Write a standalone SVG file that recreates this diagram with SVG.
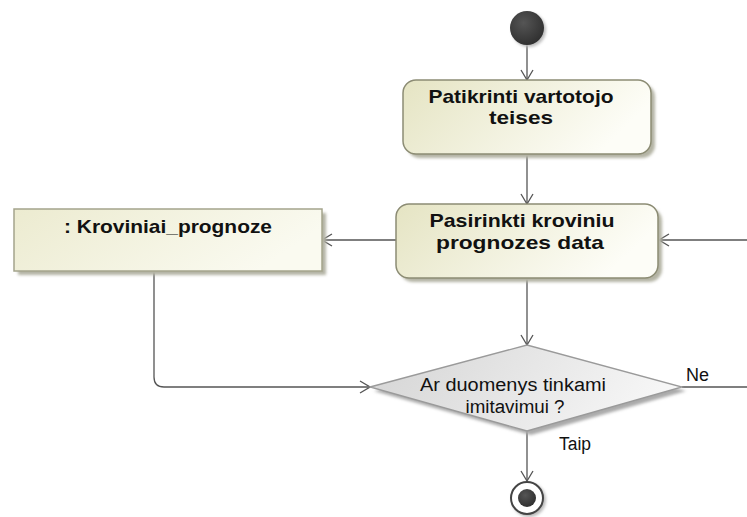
<svg xmlns="http://www.w3.org/2000/svg" width="747" height="517" viewBox="0 0 747 517">
<style>
.bt{font-family:"Liberation Sans",Arial,sans-serif;font-weight:bold;font-size:19px;fill:#111;text-anchor:middle}
.nt{font-family:"Liberation Sans",Arial,sans-serif;font-size:18px;fill:#111}
.ct{fill:none;stroke:#555;stroke-width:1.3}
.act{stroke:#8c8c74;stroke-width:1.5}
</style>
<defs>
<linearGradient id="gAct" x1="0" y1="0" x2="1" y2="0.3">
<stop offset="0" stop-color="#e5e4c3"/>
<stop offset="1" stop-color="#fdfdf7"/>
</linearGradient>
<linearGradient id="gObj" x1="0" y1="0" x2="1" y2="0.3">
<stop offset="0" stop-color="#eceBd0"/>
<stop offset="1" stop-color="#fafaf0"/>
</linearGradient>
<linearGradient id="gDec" x1="0" y1="0" x2="1" y2="0.2">
<stop offset="0" stop-color="#d4d4d4"/>
<stop offset="1" stop-color="#f6f6f6"/>
</linearGradient>
<radialGradient id="gStart" cx="0.4" cy="0.35" r="0.7">
<stop offset="0" stop-color="#555"/>
<stop offset="1" stop-color="#2e2e2e"/>
</radialGradient>
<filter id="sh" x="-10%" y="-10%" width="130%" height="140%">
<feGaussianBlur stdDeviation="1.5"/>
</filter>
<marker id="arr" markerWidth="12" markerHeight="14" viewBox="0 0 12 14" refX="11" refY="7" orient="auto" markerUnits="userSpaceOnUse">
<path d="M1,1 L11,7 L1,13" fill="none" stroke="#555" stroke-width="1.3"/>
</marker>
</defs>
<rect width="747" height="517" fill="#ffffff"/>

<g id="connectors">
<line class="ct" x1="527" y1="45" x2="527" y2="80" marker-end="url(#arr)"/>
<line class="ct" x1="527" y1="154" x2="527" y2="204" marker-end="url(#arr)"/>
<line class="ct" x1="396" y1="240" x2="322" y2="240" marker-end="url(#arr)"/>
<line class="ct" x1="747" y1="240" x2="659" y2="240" marker-end="url(#arr)"/>
<line class="ct" x1="527" y1="278" x2="527" y2="345" marker-end="url(#arr)"/>
<path class="ct" d="M154,272 L154,377 Q154,387 164,387 L370,387" marker-end="url(#arr)"/>
<line class="ct" x1="682" y1="387" x2="747" y2="387"/>
<line class="ct" x1="527" y1="431" x2="527" y2="481" marker-end="url(#arr)"/>
<text class="nt" x="686" y="381" textLength="23" lengthAdjust="spacingAndGlyphs">Ne</text>
<text class="nt" x="559" y="450" textLength="32" lengthAdjust="spacingAndGlyphs">Taip</text>
</g>

<g id="start">
<circle cx="529" cy="30" r="17" fill="#bbb" filter="url(#sh)"/>
<circle cx="527" cy="28" r="17" fill="url(#gStart)"/>
</g>

<g id="patikrinti">
<rect x="407" y="84" width="248" height="74" rx="13" fill="#b4b4a4" filter="url(#sh)"/>
<rect class="act" x="403" y="80" width="248" height="74" rx="13" fill="url(#gAct)"/>
<text class="bt" x="521" y="103" textLength="185" lengthAdjust="spacingAndGlyphs">Patikrinti vartotojo</text>
<text class="bt" x="521" y="124" textLength="64" lengthAdjust="spacingAndGlyphs">teises</text>
</g>

<g id="pasirinkti">
<rect x="400" y="208" width="262" height="74" rx="13" fill="#b4b4a4" filter="url(#sh)"/>
<rect class="act" x="396" y="204" width="262" height="74" rx="13" fill="url(#gAct)"/>
<text class="bt" x="522" y="227" textLength="185" lengthAdjust="spacingAndGlyphs">Pasirinkti kroviniu</text>
<text class="bt" x="520" y="249" textLength="168" lengthAdjust="spacingAndGlyphs">prognozes data</text>
</g>

<g id="kroviniai">
<rect x="18" y="213" width="308" height="62" fill="#b4b4a4" filter="url(#sh)"/>
<rect x="14" y="209" width="308" height="62" fill="url(#gObj)" stroke="#a4a48c" stroke-width="1.5"/>
<text class="bt" x="168" y="233" textLength="208" lengthAdjust="spacingAndGlyphs">: Kroviniai_prognoze</text>
</g>

<g id="decision">
<polygon points="374,391 531,349 686,391 531,435" fill="#aaa" filter="url(#sh)"/>
<polygon points="370,387 527,345 682,387 527,431" fill="url(#gDec)" stroke="#9a9a9a" stroke-width="1.3"/>
<text class="nt" x="513" y="391" text-anchor="middle" textLength="186" lengthAdjust="spacingAndGlyphs">Ar duomenys tinkami</text>
<text class="nt" x="515" y="413" text-anchor="middle" textLength="99" lengthAdjust="spacingAndGlyphs">imitavimui ?</text>
</g>

<g id="final">
<circle cx="529" cy="500" r="17" fill="#bbb" filter="url(#sh)"/>
<circle cx="527" cy="498" r="16" fill="#fff" stroke="#444" stroke-width="2"/>
<circle cx="527" cy="498" r="9" fill="url(#gStart)"/>
</g>
</svg>
